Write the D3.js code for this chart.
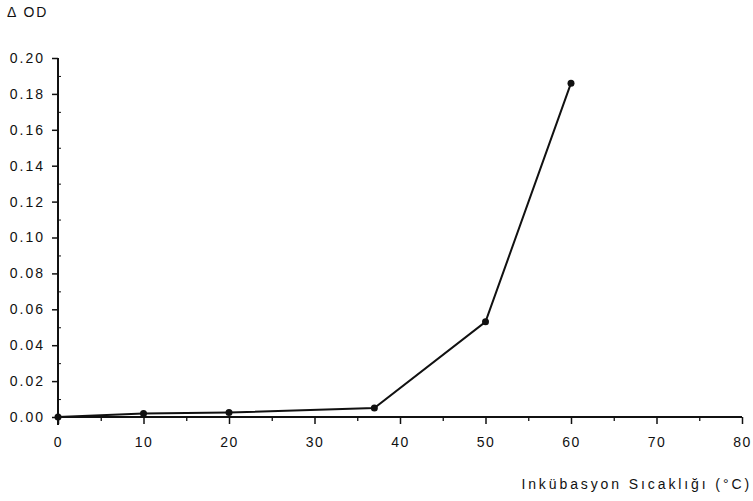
<!DOCTYPE html>
<html><head><meta charset="utf-8">
<script src="https://cdn.jsdelivr.net/npm/d3@7"></script>
<style>body{margin:0;background:#fff}svg text{font-family:"Liberation Sans",Arial,sans-serif;fill:#111}</style>
</head><body><svg id="c" width="753" height="501"></svg>
<script>
const temps = [0, 10, 20, 37, 50, 60];
const deltaOD = [0.000, 0.002, 0.0025, 0.005, 0.053, 0.186];
const xTicks = [0, 10, 20, 30, 40, 50, 60, 70, 80];
const yTicks = [0, 0.02, 0.04, 0.06, 0.08, 0.10, 0.12, 0.14, 0.16, 0.18, 0.20];
const yLabel = "\u0394 OD";
const xLabel = "Inkübasyon Sıcaklığı (°C)";

const svg = d3.select("#c");
const x = d3.scaleLinear().domain([0, 80]).range([58, 742]);
const y = d3.scaleLinear().domain([0, 0.2]).range([417, 58]);

// x axis
const xa = svg.append("g").attr("transform", `translate(0,${y(0)})`)
  .call(d3.axisBottom(x).tickValues(xTicks).tickSize(7).tickPadding(13).tickFormat(d3.format("d")));
xa.select(".domain").attr("stroke", "#111").attr("stroke-width", 2).attr("d", `M${x(0)},0H${x(80)}`);
xa.selectAll(".tick line").attr("stroke", "#111").attr("stroke-width", 1.5);
xa.selectAll(".tick text").attr("font-size", 14).attr("letter-spacing", "1.5px").attr("font-family", "Liberation Sans");
svg.append("g").attr("transform", `translate(0,${y(0)})`)
  .call(d3.axisBottom(x).tickValues(d3.range(5, 80, 10)).tickSize(4).tickFormat(""))
  .call(g => g.select(".domain").remove())
  .selectAll("line").attr("stroke", "#111").attr("stroke-width", 1.3);

// y axis
const ya = svg.append("g").attr("transform", `translate(${x(0)},0)`)
  .call(d3.axisLeft(y).tickValues(yTicks).tickSize(6).tickPadding(7).tickFormat(d3.format(".2f")));
ya.select(".domain").attr("stroke", "#111").attr("stroke-width", 2).attr("d", `M0,${y(0) + 8}V${y(0.2)}`);
ya.selectAll(".tick line").attr("stroke", "#111").attr("stroke-width", 1.5);
ya.selectAll(".tick text").attr("font-size", 14).attr("letter-spacing", "2px").attr("font-family", "Liberation Sans");
svg.append("g").attr("transform", `translate(${x(0)},0)`)
  .call(d3.axisRight(y).tickValues(d3.range(0.01, 0.2, 0.02)).tickSize(3).tickFormat(""))
  .call(g => g.select(".domain").remove())
  .selectAll("line").attr("stroke", "#111").attr("stroke-width", 1);

// line
const data = temps.map((t, i) => ({t, v: deltaOD[i]}));
svg.append("path").datum(data)
  .attr("fill", "none").attr("stroke", "#111").attr("stroke-width", 2)
  .attr("d", d3.line().x(d => x(d.t)).y(d => y(d.v)));
svg.selectAll("circle.pt").data(data).join("circle").attr("class", "pt")
  .attr("cx", d => x(d.t)).attr("cy", d => y(d.v)).attr("r", 3.5).attr("fill", "#111");

// labels
svg.append("text").attr("x", 7).attr("y", 17).attr("font-size", 14).attr("letter-spacing", "2px").text(yLabel);
svg.append("text").attr("x", 752).attr("y", 489).attr("text-anchor", "end")
  .attr("font-size", 14).attr("letter-spacing", "2.9px").text(xLabel);
</script></body></html>
